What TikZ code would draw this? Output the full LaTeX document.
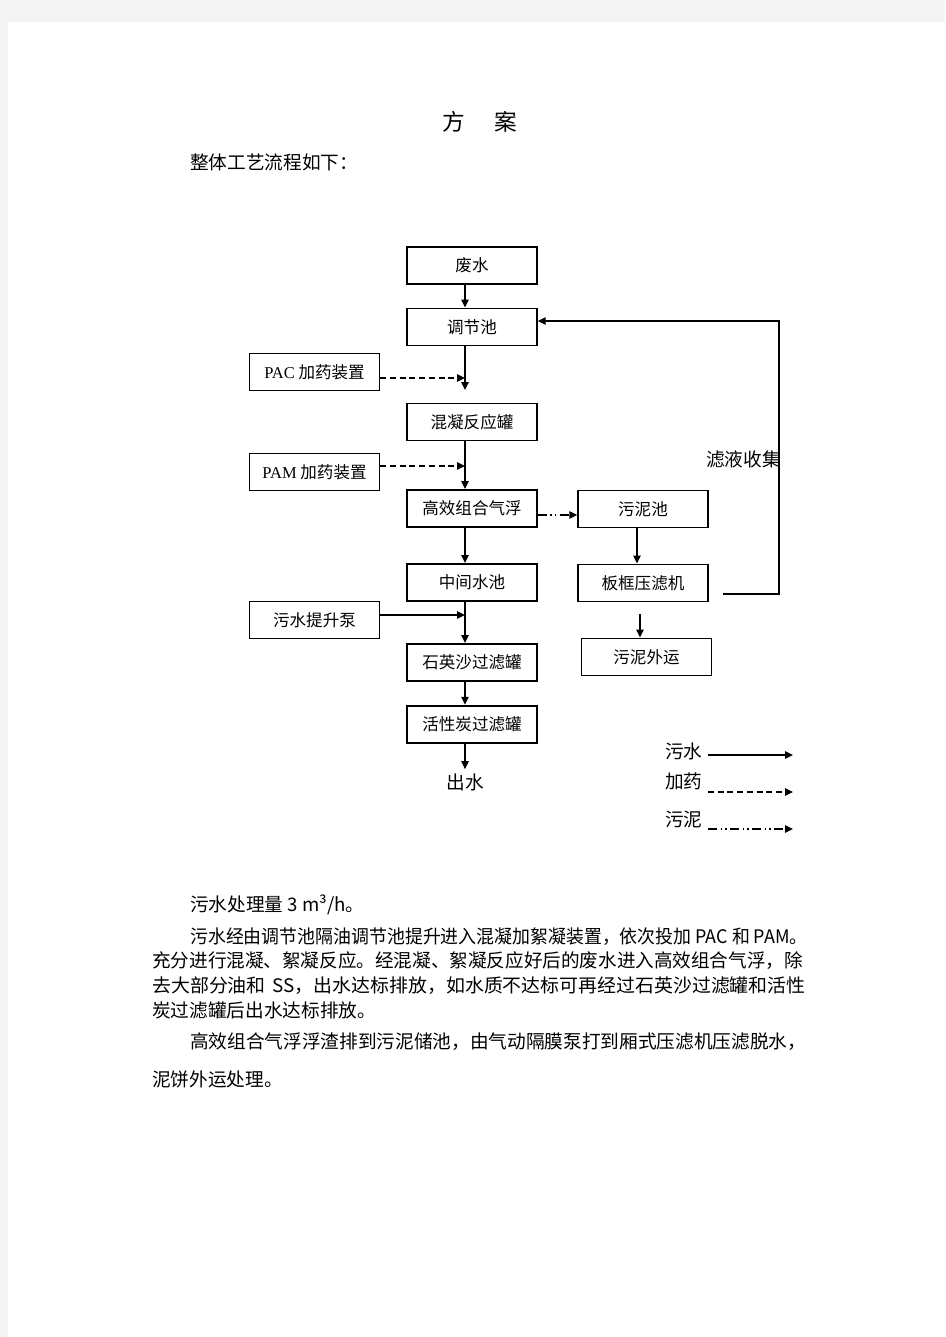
\documentclass[tikz,border=0pt]{standalone}
\usepackage{fontspec}
\setmainfont{Liberation Serif}
\newfontfamily\cjk{Noto Sans CJK SC}
\usetikzlibrary{arrows.meta,calc}
\definecolor{pagegray}{HTML}{F4F4F4}
\tikzset{
  box/.style={draw, line width=1.1pt, minimum width=97.5pt, minimum height=28pt, inner sep=0pt,
    font=\cjk\fontsize{12.4}{14}\selectfont},
  flow/.style={line width=1.2pt, -{Triangle[length=6pt,width=5.5pt]}},
  dose/.style={flow, dash pattern=on 4.5pt off 2.8pt},
  sludge/.style={flow, dash pattern=on 7pt off 2.5pt on 1pt off 2.5pt on 1pt off 2.5pt},
  para/.style={font=\cjk\fontsize{14}{16}\selectfont, inner sep=0pt, anchor=west},
  lbl/.style={font=\cjk\fontsize{14}{16}\selectfont, inner sep=0pt}
}
\begin{document}
\begin{tikzpicture}[x=0.75pt,y=-0.75pt]
\fill[pagegray] (0,0) rectangle (945,1337);
\fill[white] (8,22) rectangle (945,1337);
\useasboundingbox (0,0) rectangle (945,1337);

% title and intro
\node[lbl, font=\cjk\fontsize{17}{20}\selectfont] (title) at (480,122) {方\hspace{22pt}案};
\node[para] (intro) at (190,162) {整体工艺流程如下：};

% main column
\coordinate (L) at (465,0);
\node[box] (fs) at (472,265.5) {废水};
\node[box] (tj) at (472,327) {调节池};
\node[box] (pac) at (314.5,372) {{\rmfamily PAC} 加药装置};
\node[box] (hn) at (472,422) {混凝反应罐};
\node[box] (pam) at (314.5,472) {{\rmfamily PAM} 加药装置};
\node[box] (gx) at (472,508.5) {高效组合气浮};
\node[box] (zj) at (472,582.5) {中间水池};
\node[box] (pump) at (314.5,620) {污水提升泵};
\node[box] (sy) at (472,662.5) {石英沙过滤罐};
\node[box, line width=1.6pt] (hx) at (472,724.5) {活性炭过滤罐};
\node[lbl, inner sep=3pt] (cs) at (465,782) {出水};

% sludge column
\node[box] (wnc) at (643,509) {污泥池};
\node[box] (bk) at (643,583) {板框压滤机};
\node[box] (wnwy) at (646.5,657) {污泥外运};
\node[lbl, anchor=east] (lyjs) at (781,459) {滤液收集};

% flow connectors
\draw[flow] (fs.south -| L) -- (tj.north -| L);
\coordinate (m1) at (465,390);
\draw[flow] (tj.south -| L) -- (m1);
\draw[dose] ($(pac.east)+(0,6)$) -- ($(pac.east -| L)+(0,6)$);
\draw[flow] (hn.south -| L) -- (gx.north -| L);
\draw[dose] ($(pam.east)+(0,-6)$) -- ($(pam.east -| L)+(0,-6)$);
\draw[flow] (gx.south -| L) -- (zj.north -| L);
\draw[flow] ($(pump.east)+(0,-5)$) -- ($(pump.east -| L)+(0,-5)$);
\draw[flow] (zj.south -| L) -- (sy.north -| L);
\draw[flow] (sy.south -| L) -- (hx.north -| L);
\draw[flow] (hx.south -| L) -- (cs.north);

\draw[sludge] ($(gx.east)+(0,6.5)$) -- ($(wnc.west)+(0,6)$);
\draw[flow] ($(wnc.south)+(-6,0)$) -- ($(bk.north)+(-6,0)$);
\draw[flow] ($(wnwy.north)+(-6.5,-24)$) -- ($(wnwy.north)+(-6.5,0)$);
\coordinate (R) at (779,321);
\draw[flow] ($(bk.east)+(14,11)$) -| (R) -- ($(tj.east)+(0,-6)$);

% legend
\node[lbl, anchor=west] (lg1) at (665,751) {污水};
\node[lbl, anchor=west] (lg2) at (665,781) {加药};
\node[lbl, anchor=west] (lg3) at (665,820) {污泥};
\coordinate (a1) at (708,755); \coordinate (b1) at (793,755);
\coordinate (a2) at (708,792); \coordinate (b2) at (793,792);
\coordinate (a3) at (708,829); \coordinate (b3) at (793,829);
\draw[flow] (a1) -- (b1);
\draw[dose] (a2) -- (b2);
\draw[sludge] (a3) -- (b3);

% text
\node[para] (p0) at (190,905) {污水处理量 3 m³/h。};
\node[para] (p1) at (190,937) {\resizebox{463pt}{\height}{污水经由调节池隔油调节池提升进入混凝加絮凝装置，依次投加 PAC 和 PAM。}};
\node[para] (p2) at (152,961) {\resizebox{488pt}{\height}{充分进行混凝、絮凝反应。经混凝、絮凝反应好后的废水进入高效组合气浮，除}};
\node[para] (p3) at (152,986) {\resizebox{490pt}{\height}{去大部分油和\hspace{5pt}SS，出水达标排放，如水质不达标可再经过石英沙过滤罐和活性}};
\node[para] (p4) at (152,1010) {炭过滤罐后出水达标排放。};
\node[para] (p5) at (190,1042) {\resizebox{462pt}{\height}{高效组合气浮浮渣排到污泥储池，由气动隔膜泵打到厢式压滤机压滤脱水，}};
\node[para] (p6) at (152,1079) {泥饼外运处理。};
\end{tikzpicture}
\end{document}
